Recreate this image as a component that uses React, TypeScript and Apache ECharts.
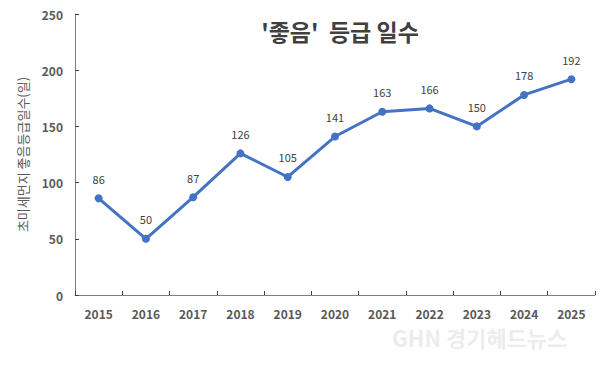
import React, { useEffect, useRef } from "react";
import * as echarts from "echarts";

const years = ["2015", "2016", "2017", "2018", "2019", "2020", "2021", "2022", "2023", "2024", "2025"];
const goodDays = [86, 50, 87, 126, 105, 141, 163, 166, 150, 178, 192];
const yTicks = { min: 0, max: 250, interval: 50 };
const titleText = "'좋음'  등급 일수";
const yAxisName = "초미세먼지 좋음등급일수(일)";

export default function App() {
  const ref = useRef<HTMLDivElement>(null);
  useEffect(() => {
    if (!ref.current) return;
    const chart = echarts.init(ref.current, undefined, { renderer: "svg" });
    const font = "'Noto Sans CJK KR', 'Noto Sans', sans-serif";
    chart.setOption({
      animation: false,
      backgroundColor: "#ffffff",
      title: {
        text: titleText,
        left: 335,
        top: 14,
        textAlign: "center",
        textStyle: { fontSize: 23, fontWeight: "bold", color: "#404040", fontFamily: font },
      },
      grid: { left: 75, right: 12, top: 14, bottom: 77, containLabel: false },
      xAxis: {
        type: "category",
        data: years,
        boundaryGap: true,
        axisLine: { lineStyle: { color: "#7f7f7f", width: 1 } },
        axisTick: { show: true, inside: true, length: 4, lineStyle: { color: "#404040" } },
        axisLabel: { color: "#595959", fontSize: 12, fontWeight: "bold", margin: 12, fontFamily: font },
      },
      yAxis: {
        type: "value",
        min: yTicks.min,
        max: yTicks.max,
        interval: yTicks.interval,
        name: yAxisName,
        nameLocation: "middle",
        nameGap: 46,
        nameTextStyle: { color: "#595959", fontSize: 13, fontFamily: font },
        splitLine: { show: false },
        axisLine: { show: true, lineStyle: { color: "#7f7f7f", width: 1 } },
        axisTick: { show: true, inside: true, length: 4, lineStyle: { color: "#404040" } },
        axisLabel: { color: "#595959", fontSize: 12, fontWeight: "bold", margin: 12, fontFamily: font },
      },
      series: [
        {
          type: "line",
          data: goodDays,
          symbol: "circle",
          symbolSize: 8,
          lineStyle: { color: "#4472C4", width: 3 },
          itemStyle: { color: "#4472C4" },
          label: {
            show: true,
            position: "top",
            distance: 10,
            color: "#404040",
            fontSize: 11,
            fontFamily: font,
          },
        },
      ],
      graphic: [
        {
          type: "text",
          left: 392,
          top: 326,
          style: {
            text: "GHN 경기헤드뉴스",
            fontSize: 22,
            fontWeight: "bold",
            fill: "rgba(200,200,200,0.35)",
            fontFamily: font,
          },
        },
      ],
    });
    return () => chart.dispose();
  }, []);
  return <div ref={ref} style={{ width: 607, height: 372, position: "absolute", left: 0, top: 0 }} />;
}
